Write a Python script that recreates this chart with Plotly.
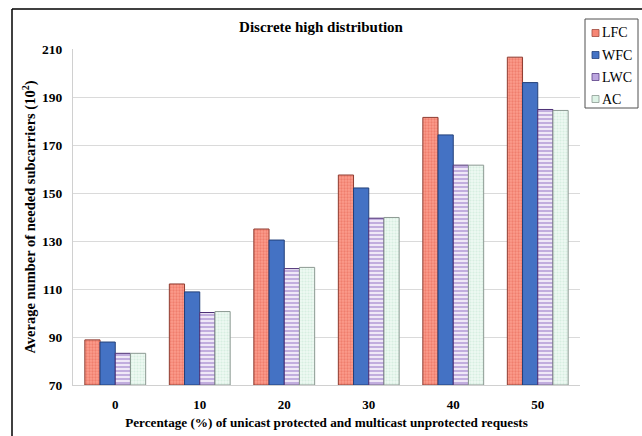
import plotly.graph_objects as go

# Percentage of unicast protected / multicast unprotected requests
categories = ["0", "10", "20", "30", "40", "50"]

# Average number of needed subcarriers (x 10^2) per strategy
lfc = [88.8, 112.1, 135.0, 157.5, 181.5, 206.6]
wfc = [87.9, 108.8, 130.4, 152.1, 174.2, 196.0]
lwc = [83.2, 100.2, 118.5, 139.5, 161.6, 184.8]
ac = [83.2, 100.6, 119.0, 139.8, 161.6, 184.4]

y_ticks = [70, 90, 110, 130, 150, 170, 190, 210]

serif = "Liberation Serif, Times New Roman, serif"

# Plot-area geometry in pixels (used to place the frame and the legend box)
W, H = 642, 436
L, R, T, B = 73, 580, 49, 385


def px_x(x):
    return (x - L) / (R - L)


def px_y(y):
    return (B - y) / (B - T)


series = [
    ("LFC", lfc, dict(color="#F7836F", line=dict(color="#8E3B30", width=1),
                      pattern=dict(shape=".", fgcolor="#E4604E", bgcolor="#FB9C8C",
                                   size=3, solidity=0.45)), "#F68674", "#A04A3E"),
    ("WFC", wfc, dict(color="#4472C4", line=dict(color="#23407A", width=1)),
     "#4472C4", "#23407A"),
    ("LWC", lwc, dict(color="#9C7DCB", line=dict(color="#4B2E74", width=1),
                      pattern=dict(shape="-", fgcolor="#8E6BC2", bgcolor="#F4EEFA",
                                   size=4, solidity=0.55)), "#BCA6DF", "#5B3F85"),
    ("AC", ac, dict(color="#DDF3E6", line=dict(color="#8C9A92", width=1),
                    pattern=dict(shape=".", fgcolor="#BFE4CF", bgcolor="#EEF9F2",
                                 size=3, solidity=0.4)), "#DDF3E6", "#8C9A92"),
]

fig = go.Figure()
for name, vals, marker, _, _ in series:
    fig.add_trace(go.Bar(x=categories, y=[v - 70 for v in vals], base=70,
                         name=name, marker=marker, showlegend=False))

fig.update_layout(
    width=W, height=H,
    margin=dict(l=L, r=W - R, t=T, b=H - B),
    paper_bgcolor="white", plot_bgcolor="white",
    barmode="group", bargap=0.28, bargroupgap=0,
    font=dict(family=serif, color="black"),
    title=dict(text="<b>Discrete high distribution</b>", x=0.5, xanchor="center",
               xref="container", y=1 - 27 / H, yanchor="middle",
               font=dict(size=15, family=serif, color="black")),
)

fig.update_xaxes(
    automargin=False,
    showgrid=False, showline=True, linecolor="#D0D0D0", linewidth=1,
    ticks="", ticklabelstandoff=7,
    tickfont=dict(size=13, family=serif, color="black", weight="bold"),
    title=dict(text="<b>Percentage (%) of unicast protected and multicast unprotected requests</b>",
               font=dict(size=13.2, family=serif, color="black"), standoff=7),
)
fig.update_yaxes(
    automargin=False,
    range=[70, 210], tickvals=y_ticks, showgrid=True, gridcolor="#DADADA", gridwidth=1,
    showline=True, linecolor="#D0D0D0", linewidth=1, zeroline=False,
    ticks="", ticklabelstandoff=7,
    tickfont=dict(size=13.5, family=serif, color="black", weight="bold"),
    title=dict(text="<b>Average number of needed subcarriers (10<sup>2</sup>)</b>",
               font=dict(size=14.5, family=serif, color="black"), standoff=2),
)

# Outer frame (top and left edges)
x0 = px_x(12)
y1 = px_y(9)
fig.add_shape(type="line", xref="paper", yref="paper", x0=x0, x1=x0, y0=-0.5, y1=y1,
              line=dict(color="black", width=1.5))
fig.add_shape(type="line", xref="paper", yref="paper", x0=x0, x1=1.5, y0=y1, y1=y1,
              line=dict(color="black", width=1.5))

# Legend box with swatches and labels
fig.add_shape(type="rect", xref="paper", yref="paper",
              x0=px_x(585), x1=px_x(638), y0=px_y(108), y1=px_y(19),
              fillcolor="white", line=dict(color="#505050", width=1))
for i, (name, _, _, fill, edge) in enumerate(series):
    cy = 33 + 22 * i
    fig.add_shape(type="rect", xref="paper", yref="paper",
                  x0=px_x(592), x1=px_x(599), y0=px_y(cy + 3.5), y1=px_y(cy - 3.5),
                  fillcolor=fill, line=dict(color=edge, width=0.8))
    fig.add_annotation(xref="paper", yref="paper", x=px_x(600), y=px_y(cy),
                       xanchor="left", yanchor="middle", showarrow=False,
                       text=name, font=dict(size=14, family=serif, color="black"))

fig.write_html("out.html")
